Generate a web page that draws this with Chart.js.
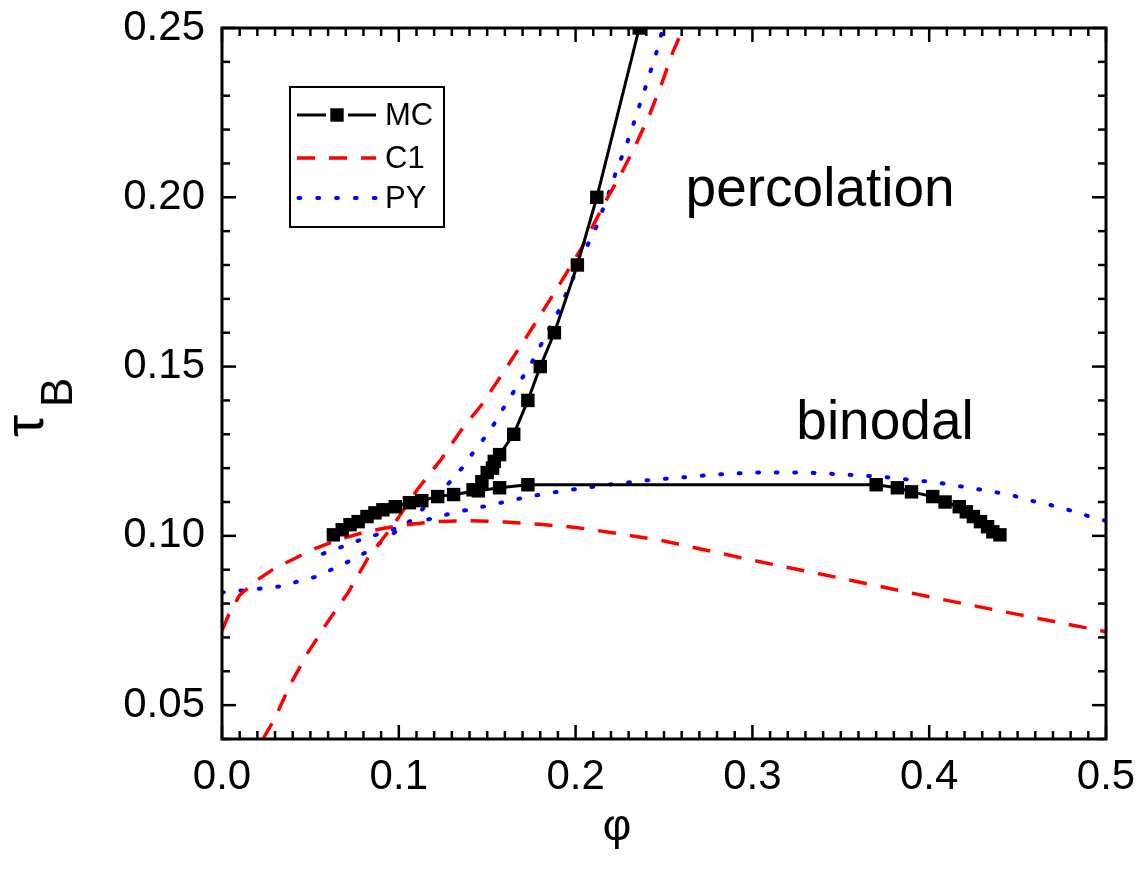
<!DOCTYPE html>
<html><head><meta charset="utf-8">
<script src="https://cdn.jsdelivr.net/npm/chart.js@4"></script>
<style>html,body{margin:0;padding:0;background:#fff}#wrap{width:1145px;height:883px}</style>
</head><body><div id="wrap"><canvas id="c" width="1145" height="883"></canvas></div>
<script>
// ---- data ----
const xTicks = [0.0, 0.1, 0.2, 0.3, 0.4, 0.5];
const yTicks = [0.05, 0.10, 0.15, 0.20, 0.25];

// MC binodal
const mcBinPhi = [0.063,0.068,0.0724,0.077,0.082,0.0865,0.091,0.098,0.106,0.113,0.122,0.131,0.145,0.157,0.173,0.370,0.382,0.390,0.402,0.409,0.417,0.421,0.425,0.429,0.433,0.436,0.440];
const mcBinTau = [0.1003,0.1018,0.1033,0.1042,0.1057,0.1068,0.1077,0.1086,0.1098,0.1104,0.1116,0.1122,0.1133,0.1142,0.1151,0.1151,0.1142,0.1130,0.1116,0.1100,0.1086,0.1071,0.1057,0.1042,0.1027,0.1012,0.1003];
// MC percolation
const mcPercPhi = [0.142,0.147,0.150,0.153,0.154,0.157,0.165,0.173,0.180,0.188,0.201,0.212,0.236];
const mcPercTau = [0.1136,0.116,0.1187,0.120,0.122,0.124,0.130,0.140,0.150,0.160,0.180,0.200,0.250];
// C1 binodal
const c1BinPhi = [0,0.004,0.01,0.02,0.03,0.04,0.05,0.06,0.07,0.08,0.09,0.10,0.12,0.14,0.16,0.18,0.20,0.22,0.25,0.27,0.30,0.35,0.40,0.45,0.50];
const c1BinTau = [0.072,0.077,0.0825,0.087,0.0905,0.093,0.0957,0.0977,0.0995,0.101,0.1021,0.103,0.1042,0.1045,0.1041,0.1034,0.1025,0.1010,0.0985,0.0962,0.0928,0.0875,0.082,0.0768,0.0717];
// C1 percolation
const c1PercPhi = [0.0232,0.030,0.0385,0.0486,0.0594,0.0713,0.0826,0.0915,0.098,0.1105,0.1238,0.1363,0.147,0.160,0.175,0.190,0.2036,0.2166,0.225,0.2336,0.242,0.249,0.255,0.261];
const c1PercTau = [0.040,0.0462,0.056,0.0655,0.0743,0.0832,0.0935,0.0995,0.104,0.1137,0.1225,0.132,0.1388,0.149,0.161,0.1735,0.1852,0.1985,0.2062,0.215,0.2246,0.234,0.2429,0.250];
// PY percolation
const pyPercPhi = [0,0.0215,0.032,0.042,0.053,0.063,0.074,0.085,0.095,0.106,0.116,0.127,0.1357,0.1437,0.1516,0.158,0.175,0.190,0.207,0.2121,0.216,0.220,0.2234,0.2274,0.2313,0.2347,0.238,0.2415,0.245,0.2477,0.2495];
const pyPercTau = [0.0833,0.0844,0.085,0.0864,0.0879,0.0903,0.093,0.0962,0.100,0.1042,0.1092,0.1148,0.120,0.1258,0.131,0.1367,0.151,0.166,0.1861,0.1917,0.1973,0.203,0.2083,0.2136,0.2192,0.2249,0.230,0.2358,0.2414,0.2467,0.250];
// PY binodal
const pyBinPhi = [0.057,0.068,0.0786,0.089,0.0995,0.110,0.1205,0.1307,0.142,0.1527,0.163,0.1736,0.1838,0.1946,0.22,0.24,0.259,0.2788,0.300,0.3105,0.331,0.3416,0.352,0.3626,0.3727,0.3835,0.394,0.405,0.4157,0.426,0.4366,0.4474,0.4576,0.468,0.4785,0.489,0.4994];
const pyBinTau = [0.0947,0.0968,0.0989,0.1006,0.1024,0.1039,0.1054,0.1068,0.108,0.1092,0.1104,0.1116,0.1125,0.1134,0.1152,0.1164,0.1172,0.1181,0.1187,0.1187,0.1187,0.1184,0.1181,0.1178,0.1175,0.1169,0.1163,0.1157,0.1148,0.1139,0.113,0.1119,0.1104,0.1092,0.1077,0.106,0.1045];

const seriesNames = ['MC','C1','PY'];

const pts = (xs, ys) => xs.map((v, i) => ({x: v, y: ys[i]}));
const FONT = "'Liberation Sans', Arial, Helvetica, sans-serif";

const styleMC = {borderColor:'#000', backgroundColor:'#000', borderWidth:3, pointStyle:'rect', pointRadius:9.5, pointBorderWidth:0, pointBackgroundColor:'#000'};
const styleC1 = {borderColor:'#ff0000', borderWidth:3.5, borderDash:[18,14], pointRadius:0};
const stylePY = {borderColor:'#0000ff', borderWidth:4, borderDash:[1.8,16.7], borderCapStyle:'round', pointRadius:0};

const datasets = [
  Object.assign({label:'MC', data:pts(mcBinPhi, mcBinTau)}, styleMC),
  Object.assign({label:'MC perc', data:pts(mcPercPhi, mcPercTau)}, styleMC),
  Object.assign({label:'C1', data:pts(c1BinPhi, c1BinTau)}, styleC1),
  Object.assign({label:'C1 perc', data:pts(c1PercPhi, c1PercTau)}, styleC1),
  Object.assign({label:'PY', data:pts(pyBinPhi, pyBinTau)}, stylePY),
  Object.assign({label:'PY perc', data:pts(pyPercPhi, pyPercTau)}, stylePY)
].map(d => Object.assign(d, {showLine:true, tension:0, fill:false}));

const decor = {
  id: 'decor',
  afterDatasetsDraw(chart) {
    const {ctx, chartArea: a, scales: {x, y}} = chart;
    ctx.save();
    ctx.strokeStyle = '#000';
    ctx.lineCap = 'butt';
    const seg = (x1, y1, x2, y2) => { ctx.beginPath(); ctx.moveTo(x1, y1); ctx.lineTo(x2, y2); ctx.stroke(); };
    ctx.lineWidth = 2.5;
    for (let i = 0; i <= 50; i++) {
      const px = x.getPixelForValue(i / 100);
      const L = (i % 10 === 0) ? 14 : 8;
      seg(px, a.bottom, px, a.bottom - L);
      seg(px, a.top, px, a.top + L);
    }
    for (let i = 4; i <= 25; i++) {
      const py = y.getPixelForValue(i / 100);
      const L = (i % 5 === 0) ? 14 : 8;
      seg(a.left, py, a.left + L, py);
      seg(a.right, py, a.right - L, py);
    }
    ctx.lineWidth = 3;
    ctx.strokeRect(a.left, a.top, a.right - a.left, a.bottom - a.top);

    // annotations
    ctx.fillStyle = '#000';
    ctx.font = '55px ' + FONT;
    ctx.textAlign = 'center';
    ctx.textBaseline = 'alphabetic';
    ctx.fillText('percolation', x.getPixelForValue(0.3383), y.getPixelForValue(0.1975));
    ctx.fillText('binodal', x.getPixelForValue(0.375), y.getPixelForValue(0.1285));

    // axis titles
    ctx.font = '44px ' + FONT;
    ctx.textBaseline = 'middle';
    ctx.fillText('\u03C6', 617, 828);
    ctx.save();
    ctx.translate(43, 437);
    ctx.rotate(-Math.PI / 2);
    ctx.textAlign = 'left';
    ctx.textBaseline = 'alphabetic';
    ctx.font = '56px ' + FONT;
    ctx.fillText('\u03C4', 0, 0);
    ctx.font = '44px ' + FONT;
    ctx.fillText('B', 30, 29);
    ctx.restore();

    // legend
    ctx.lineWidth = 2;
    ctx.strokeStyle = '#000';
    ctx.strokeRect(290, 87, 154, 140);
    const rows = [115, 158, 198];
    // MC
    ctx.lineWidth = 3;
    ctx.strokeStyle = '#000';
    seg(297, rows[0], 326, rows[0]);
    seg(348, rows[0], 376, rows[0]);
    ctx.fillStyle = '#000';
    ctx.fillRect(337 - 6.7, rows[0] - 6.7, 13.4, 13.4);
    // C1
    ctx.strokeStyle = styleC1.borderColor;
    ctx.lineWidth = styleC1.borderWidth;
    ctx.setLineDash(styleC1.borderDash);
    seg(297, rows[1], 376, rows[1]);
    // PY
    ctx.strokeStyle = stylePY.borderColor;
    ctx.lineWidth = stylePY.borderWidth;
    ctx.lineCap = 'round';
    ctx.setLineDash([1.8, 17]);
    seg(298.5, rows[2], 376, rows[2]);
    ctx.setLineDash([]);
    ctx.fillStyle = '#000';
    ctx.font = '31px ' + FONT;
    ctx.textAlign = 'left';
    ctx.textBaseline = 'middle';
    seriesNames.forEach((n, i) => ctx.fillText(n, 385, rows[i] + 1));
    ctx.restore();
  }
};

new Chart(document.getElementById('c'), {
  type: 'scatter',
  data: {datasets},
  options: {
    responsive: false,
    devicePixelRatio: 1,
    animation: false,
    events: [],
    layout: {padding: {top: 28, right: 39, left: 0, bottom: 0}},
    plugins: {legend: {display: false}, tooltip: {enabled: false}},
    scales: {
      x: {
        type: 'linear', min: 0, max: 0.5,
        afterBuildTicks: s => { s.ticks = xTicks.map(v => ({value: v})); },
        afterFit: s => { s.height = 144; s.paddingLeft = 0; s.paddingRight = 0; },
        ticks: {callback: v => v.toFixed(1), color: '#000', font: {family: FONT, size: 42}, padding: 13, maxRotation: 0, autoSkip: false},
        grid: {display: false, drawTicks: false},
        border: {display: false}
      },
      y: {
        type: 'linear', min: 0.04, max: 0.25,
        afterBuildTicks: s => { s.ticks = yTicks.map(v => ({value: v})); },
        afterFit: s => { s.width = 222; s.paddingTop = 0; s.paddingBottom = 0; },
        ticks: {callback: v => v.toFixed(2), color: '#000', font: {family: FONT, size: 42}, padding: 17, autoSkip: false},
        grid: {display: false, drawTicks: false},
        border: {display: false}
      }
    }
  },
  plugins: [decor]
});
</script>
</body></html>
